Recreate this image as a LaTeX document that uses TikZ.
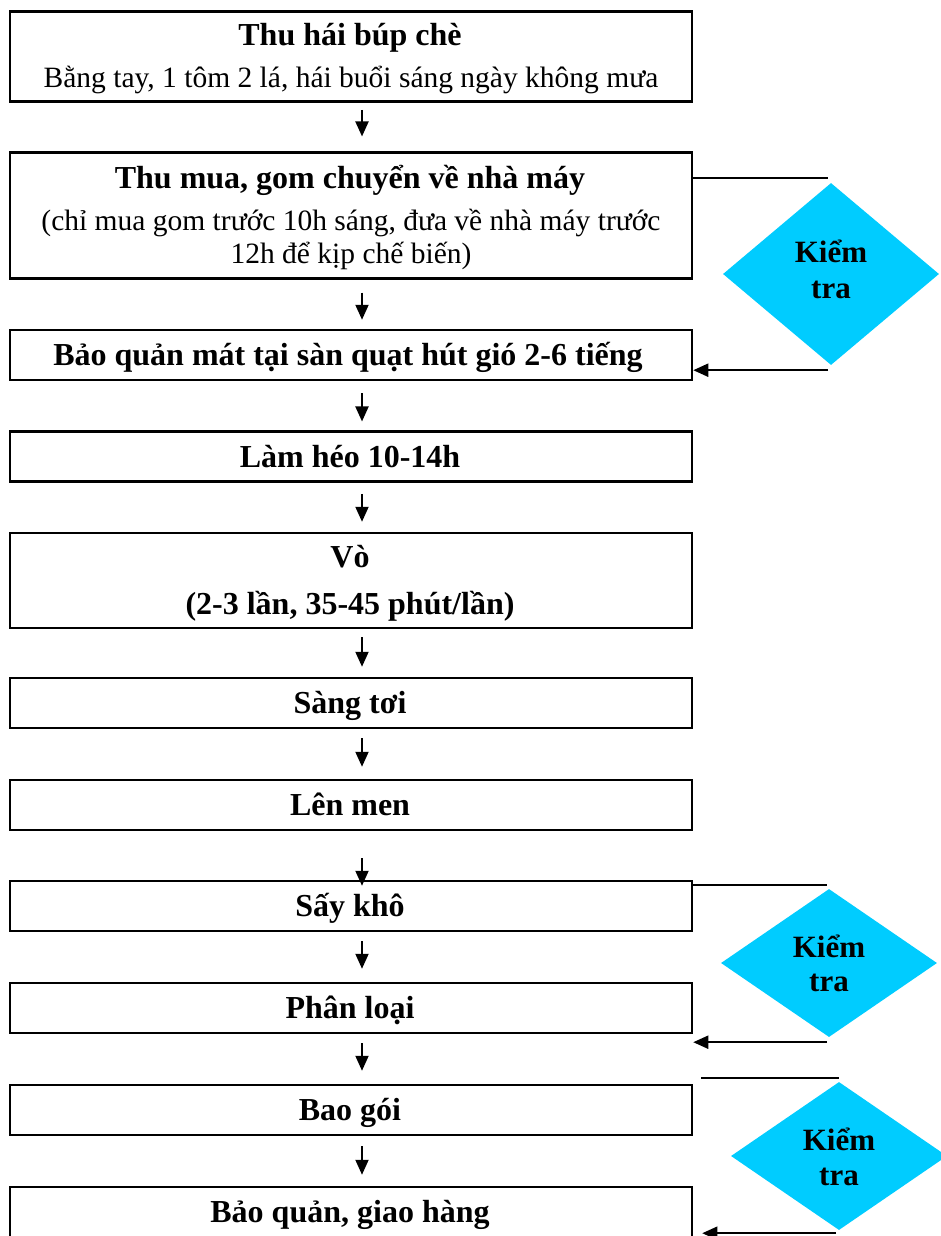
\documentclass[tikz,border=0pt]{standalone}
\usepackage{fontspec}
\setmainfont{Liberation Serif}
\usetikzlibrary{shapes.geometric,arrows.meta}
\definecolor{kcyan}{RGB}{0,204,255}
\begin{document}
\begin{tikzpicture}[x=1pt,y=-1pt,
  box/.style={draw,line width=2.5pt,minimum width=682pt,inner sep=0pt},
  bt/.style={anchor=base,inner sep=0pt,font=\bfseries\fontsize{32}{38}\selectfont},
  rt/.style={anchor=base,inner sep=0pt,font=\fontsize{29.5}{36}\selectfont},
  kt/.style={anchor=base,inner sep=0pt,font=\bfseries\fontsize{31}{37}\selectfont},
  arr/.style={line width=2pt,-{Triangle[length=15pt,width=13pt]}},
  ln/.style={line width=2pt},
  chk/.style={diamond,fill=kcyan,draw=none,inner sep=0pt,minimum width=216pt}]
\useasboundingbox (0,0) rectangle (940,1236);

% boxes
\node[box,minimum height=90pt] (b1) at (351,56.7) {};
\node[box,minimum height=125.6pt] (b2) at (351,215.5) {};
\node[box,minimum height=50pt] (b3) at (351,355) {};
\node[box,minimum height=50pt] (b4) at (351,456.7) {};
\node[box,minimum height=95pt] (b5) at (351,580.5) {};
\node[box,minimum height=50pt] (b6) at (351,703) {};
\node[box,minimum height=50pt] (b7) at (351,805) {};
\node[box,minimum height=50pt] (b8) at (351,906) {};
\node[box,minimum height=50pt] (b9) at (351,1008) {};
\node[box,minimum height=50pt] (b10) at (351,1110) {};
\node[box,minimum height=50pt] (b11) at (351,1212) {};

% box texts
\node[bt] (t1) at (350,45.7) {Thu hái búp chè};
\node[rt] (t1b) at (351,87.3) {Bằng tay, 1 tôm 2 lá, hái buổi sáng ngày không mưa};
\node[bt] (t2) at (350,188.3) {Thu mua, gom chuyển về nhà máy};
\node[rt] (t2b) at (351,230) {(chỉ mua gom trước 10h sáng, đưa về nhà máy trước};
\node[rt] (t2c) at (351,263.3) {12h để kịp chế biến)};
\node[bt] (t3) at (348,365) {Bảo quản mát tại sàn quạt hút gió 2-6 tiếng};
\node[bt] (t4) at (350,467.3) {Làm héo 10-14h};
\node[bt] (t5) at (350,567) {Vò};
\node[bt] (t5b) at (350,614) {(2-3 lần, 35-45 phút/lần)};
\node[bt] (t6) at (350,713.3) {Sàng tơi};
\node[bt] (t7) at (350,815.3) {Lên men};
\node[bt] (t8) at (350,916.3) {Sấy khô};
\node[bt] (t9) at (350,1018.3) {Phân loại};
\node[bt] (t10) at (350,1120.3) {Bao gói};
\node[bt] (t11) at (350,1222.3) {Bảo quản, giao hàng};

% check diamonds
\node[chk,minimum height=182pt] (d1) at (831,274) {};
\node[chk,minimum height=148pt] (d2) at (829,963) {};
\node[chk,minimum height=148pt] (d3) at (839,1156) {};
\node[kt] (k1) at (831,262.7) {Kiểm};
\node[kt] (k1b) at (831,298.3) {tra};
\node[kt] (k2) at (829,957.7) {Kiểm};
\node[kt] (k2b) at (829,991.7) {tra};
\node[kt] (k3) at (839,1150.7) {Kiểm};
\node[kt] (k3b) at (839,1185) {tra};

% flow arrows
\draw[arr] ([xshift=11pt,yshift=-7pt]b1.south) -- ([xshift=11pt,yshift=15pt]b2.north);
\draw[arr] ([xshift=11pt,yshift=-13pt]b2.south) -- ([xshift=11pt,yshift=9pt]b3.north);
\draw[arr] ([xshift=11pt,yshift=-12pt]b3.south) -- ([xshift=11pt,yshift=9pt]b4.north);
\draw[arr] ([xshift=11pt,yshift=-11pt]b4.south) -- ([xshift=11pt,yshift=10pt]b5.north);
\draw[arr] ([xshift=11pt,yshift=-8pt]b5.south) -- ([xshift=11pt,yshift=10pt]b6.north);
\draw[arr] ([xshift=11pt,yshift=-9pt]b6.south) -- ([xshift=11pt,yshift=12pt]b7.north);
\draw[arr] ([xshift=11pt,yshift=-27pt]b7.south) -- ([xshift=11pt,yshift=-6pt]b8.north);
\draw[arr] ([xshift=11pt,yshift=-9pt]b8.south) -- ([xshift=11pt,yshift=13pt]b9.north);
\draw[arr] ([xshift=11pt,yshift=-9pt]b9.south) -- ([xshift=11pt,yshift=13pt]b10.north);
\draw[arr] ([xshift=11pt,yshift=-10pt]b10.south) -- ([xshift=11pt,yshift=11pt]b11.north);

% check connectors
\draw[ln] ([yshift=37.5pt]b2.east) -- ([yshift=37.5pt,xshift=-3pt]b2.east -| d1.north);
\draw[arr] ([xshift=-3pt,yshift=-5pt]d1.south) -- ([yshift=-5pt]d1.south -| b3.east);

\draw[ln] ([yshift=21pt]b8.east) -- ([yshift=21pt,xshift=-2pt]b8.east -| d2.north);
\draw[arr] ([xshift=-2pt,yshift=-5pt]d2.south) -- ([yshift=-5pt]d2.south -| b9.east);

\coordinate (c3) at (701,1078);
\draw[ln] (c3) -- (c3 -| d3.north);
\draw[arr] ([xshift=-3pt,yshift=-3pt]d3.south) -- ([xshift=9pt,yshift=-3pt]d3.south -| b11.east);
\end{tikzpicture}
\end{document}
